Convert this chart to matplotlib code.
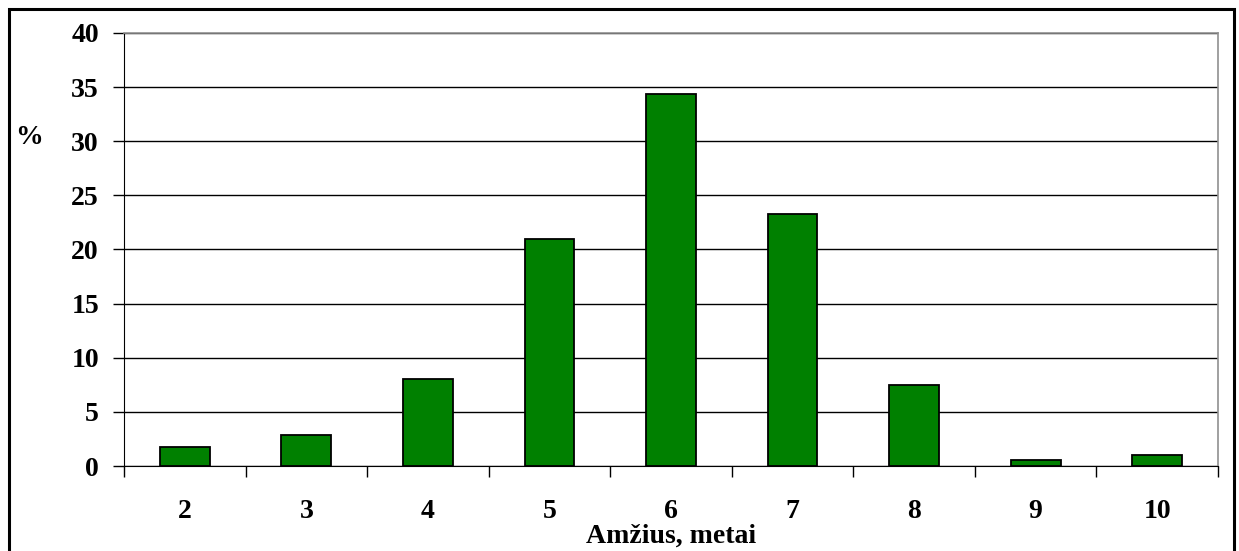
import matplotlib.pyplot as plt
from matplotlib.patches import Rectangle
from matplotlib.ticker import FixedLocator

# Data
ages = [2, 3, 4, 5, 6, 7, 8, 9, 10]
percent = [1.8, 2.9, 8.0, 21.0, 34.4, 23.3, 7.5, 0.6, 1.0]

plt.rcParams['font.family'] = ['Liberation Serif', 'DejaVu Serif']
plt.rcParams['font.weight'] = 'bold'

fig = plt.figure(figsize=(12.39, 5.51), dpi=100)
ax = fig.add_axes([124 / 1239, 1 - 466 / 551, (1218 - 124) / 1239, (466 - 33) / 551])

# Outer frame
fig.patches.append(Rectangle((9 / 1239, -0.05), (1234 - 9) / 1239, 1.05 - 9 / 551,
                             transform=fig.transFigure, fill=False,
                             edgecolor='black', linewidth=2.2))

x = list(range(len(ages)))
ax.bar(x, percent, width=0.41, color='#008000', edgecolor='black', linewidth=1.3, zorder=3)

ax.set_xlim(-0.5, len(ages) - 0.5)
ax.set_ylim(0, 40)
ax.set_yticks(range(0, 41, 5))
ax.yaxis.grid(True, color='black', linewidth=1.0, zorder=0)

ax.set_xticks(x)
ax.set_xticklabels([str(a) for a in ages])
ax.xaxis.set_minor_locator(FixedLocator([i + 0.5 for i in range(-1, len(ages))]))
ax.tick_params(axis='x', which='major', length=0, pad=24, labelsize=20)
ax.tick_params(axis='x', which='minor', length=8, width=1.0, direction='out')
ax.tick_params(axis='y', length=8, width=1.0, direction='out', pad=10, labelsize=20)

for s in ['top', 'right']:
    ax.spines[s].set_color('#909090')
    ax.spines[s].set_linewidth(1.2)
ax.spines['left'].set_color('black')
ax.spines['bottom'].set_color('black')

fig.text(29 / 1239, 1 - 137 / 551, '%', fontsize=20, fontweight='bold', ha='center', va='center')
fig.text(671 / 1239, 1 - 536 / 551, 'Amžius, metai', fontsize=20, fontweight='bold', ha='center', va='center')

fig.savefig('out.png', dpi=100)
